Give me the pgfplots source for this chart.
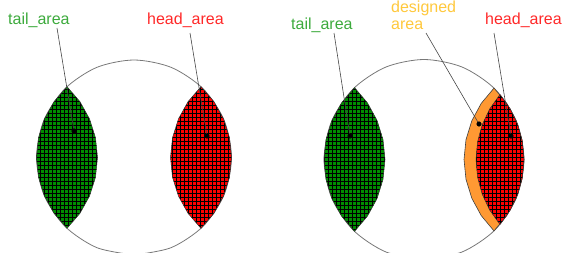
\documentclass[border=0pt]{standalone}
\usepackage{fontspec}
\setmainfont{Liberation Sans}
\usepackage{pgfplots}
\pgfplotsset{compat=1.18}
\usetikzlibrary{patterns.meta}
\definecolor{lensgreen}{RGB}{0,140,0}
\definecolor{lensred}{RGB}{255,0,0}
\definecolor{bandorange}{RGB}{255,153,51}
\definecolor{txtgreen}{RGB}{60,170,60}
\definecolor{txtred}{RGB}{255,40,40}
\definecolor{txtorange}{RGB}{255,200,60}
\definecolor{circgray}{RGB}{120,120,120}
\definecolor{leadgray}{RGB}{70,70,70}
\tikzset{lbl/.style={font=\fontsize{16bp}{19bp}\selectfont, inner sep=0pt, anchor=base west},
  gridpat/.style={pattern={Hatch[angle=0,distance=4bp,line width=0.32pt]}, pattern color=black, draw=black!80, line width=0.5pt}}
\begin{document}
\begin{tikzpicture}
\begin{axis}[width=562bp, height=253bp, scale only axis,
  xmin=0, xmax=562, ymin=0, ymax=253, y dir=reverse, hide axis, clip=true]
% ---------- left circle ----------
\addplot[smooth, draw=circgray, line width=0.8pt] coordinates {
(134,255) (96.69,247.58) (65.06,226.44) (43.92,194.81) (36.5,157.5) (43.92,120.19)
(65.06,88.56) (96.69,67.42) (134,60) (171.31,67.42) (202.94,88.56) (224.08,120.19)
(231.5,157.5) (224.08,194.81) (202.94,226.44) (171.31,247.58) (134,255)};
% left green lens
\addplot[fill=lensgreen, draw=none] coordinates {
(67,86.67) (54.08,101.65) (44.46,118.94) (38.51,137.81) (36.5,157.5) (38.51,177.19) (44.46,196.06) (54.08,213.35) (67,228.33)
(79.92,213.35) (89.54,196.06) (95.49,177.19) (97.5,157.5) (95.49,137.81) (89.54,118.94) (79.92,101.65) (67,86.67)} -- cycle;
\addplot[gridpat] coordinates {
(67,86.67) (54.08,101.65) (44.46,118.94) (38.51,137.81) (36.5,157.5) (38.51,177.19) (44.46,196.06) (54.08,213.35) (67,228.33)
(79.92,213.35) (89.54,196.06) (95.49,177.19) (97.5,157.5) (95.49,137.81) (89.54,118.94) (79.92,101.65) (67,86.67)} -- cycle;
% left red lens
\addplot[fill=lensred, draw=none] coordinates {
(201,86.67) (213.92,101.65) (223.54,118.94) (229.49,137.81) (231.5,157.5) (229.49,177.19) (223.54,196.06) (213.92,213.35) (201,228.33)
(188.08,213.35) (178.46,196.06) (172.51,177.19) (170.5,157.5) (172.51,137.81) (178.46,118.94) (188.08,101.65) (201,86.67)} -- cycle;
\addplot[gridpat] coordinates {
(201,86.67) (213.92,101.65) (223.54,118.94) (229.49,137.81) (231.5,157.5) (229.49,177.19) (223.54,196.06) (213.92,213.35) (201,228.33)
(188.08,213.35) (178.46,196.06) (172.51,177.19) (170.5,157.5) (172.51,137.81) (178.46,118.94) (188.08,101.65) (201,86.67)} -- cycle;
% ---------- right circle ----------
\addplot[smooth, draw=circgray, line width=0.8pt] coordinates {
(424,259.5) (385.73,251.89) (353.29,230.21) (331.61,197.77) (324,159.5) (331.61,121.23)
(353.29,88.79) (385.73,67.11) (424,59.5) (462.27,67.11) (494.71,88.79) (516.39,121.23)
(524,159.5) (516.39,197.77) (494.71,230.21) (462.27,251.89) (424,259.5)};
% right green lens
\addplot[fill=lensgreen, draw=none] coordinates {
(354.5,87.6) (341.57,102.88) (331.94,120.45) (326,139.58) (324,159.5) (326,179.42) (331.94,198.55) (341.57,216.12) (354.5,231.4)
(367.43,216.12) (377.06,198.55) (383,179.42) (385,159.5) (383,139.58) (377.06,120.45) (367.43,102.88) (354.5,87.6)} -- cycle;
\addplot[gridpat] coordinates {
(354.5,87.6) (341.57,102.88) (331.94,120.45) (326,139.58) (324,159.5) (326,179.42) (331.94,198.55) (341.57,216.12) (354.5,231.4)
(367.43,216.12) (377.06,198.55) (383,179.42) (385,159.5) (383,139.58) (377.06,120.45) (367.43,102.88) (354.5,87.6)} -- cycle;
% orange band (designed area)
\addplot[fill=bandorange, draw=black!75, line width=0.6pt] coordinates {
(494,88.09) (506.73,103.32) (516.19,120.77) (522.03,139.75) (524,159.5) (522.03,179.25) (516.19,198.23) (506.73,215.68) (494,230.91)
(481.27,215.68) (471.81,198.23) (465.97,179.25) (464,159.5) (465.97,139.75) (471.81,120.77) (481.27,103.32) (494,88.09)} -- cycle;
% right red lens
\addplot[fill=lensred, draw=none] coordinates {
(500,94.51) (510.25,108.9) (517.81,124.86) (522.44,141.91) (524,159.5) (522.44,177.09) (517.81,194.14) (510.25,210.1) (500,224.49)
(489.75,210.1) (482.19,194.14) (477.56,177.09) (476,159.5) (477.56,141.91) (482.19,124.86) (489.75,108.9) (500,94.51)} -- cycle;
\addplot[gridpat] coordinates {
(500,94.51) (510.25,108.9) (517.81,124.86) (522.44,141.91) (524,159.5) (522.44,177.09) (517.81,194.14) (510.25,210.1) (500,224.49)
(489.75,210.1) (482.19,194.14) (477.56,177.09) (476,159.5) (477.56,141.91) (482.19,124.86) (489.75,108.9) (500,94.51)} -- cycle;
% ---------- leader lines ----------
\addplot[draw=leadgray, line width=0.6pt] coordinates {(57,28) (74,131)};
\addplot[draw=leadgray, line width=0.6pt] coordinates {(190,33) (207,136)};
\addplot[draw=leadgray, line width=0.6pt] coordinates {(334,33) (350,136)};
\addplot[draw=leadgray, line width=0.6pt] coordinates {(426,33) (479,124)};
\addplot[draw=leadgray, line width=0.6pt] coordinates {(494,33) (511,136)};
% ---------- dots ----------
\addplot[only marks, mark=*, mark size=2.3pt, black] coordinates {
(74,131) (207,136) (350,136) (479,124) (511,136)};
% ---------- labels ----------
\node[lbl, text=txtgreen] at (axis cs:8,25) {tail\_area};
\node[lbl, text=txtred] at (axis cs:147,25) {head\_area};
\node[lbl, text=txtgreen] at (axis cs:291,30) {tail\_area};
\node[lbl, text=txtorange] at (axis cs:391,12.5) {designed};
\node[lbl, text=txtorange] at (axis cs:391,29.5) {area};
\node[lbl, text=txtred] at (axis cs:485,25) {head\_area};
\end{axis}
\pgfresetboundingbox
\useasboundingbox (current axis.south west) rectangle (current axis.north east);
\end{tikzpicture}
\end{document}
